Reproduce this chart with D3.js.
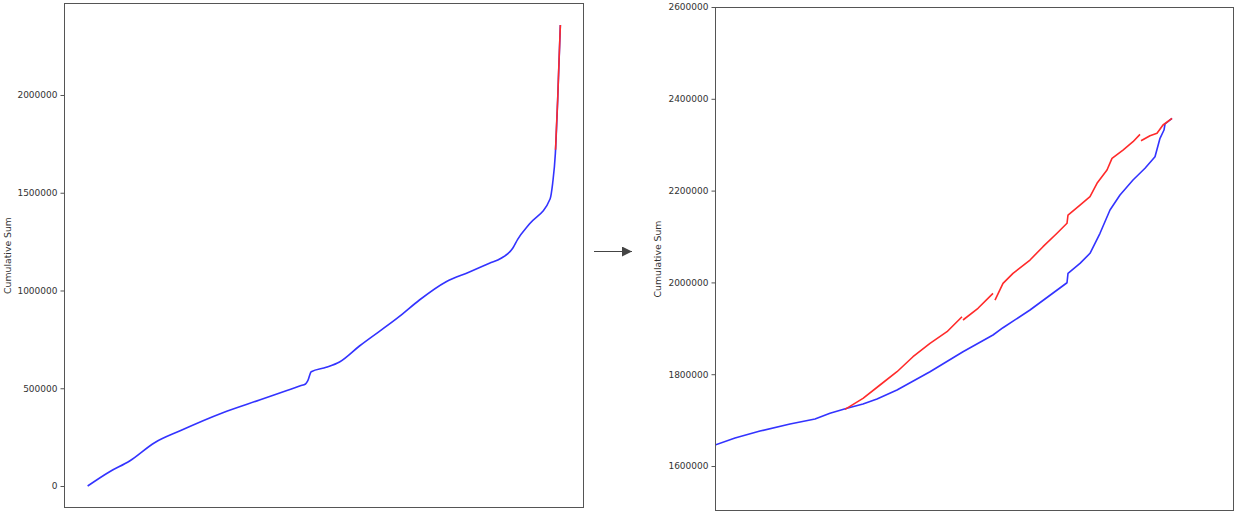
<!DOCTYPE html>
<html>
<head>
<meta charset="utf-8">
<script src="https://cdn.jsdelivr.net/npm/d3@7"></script>
<style>
  html, body { margin: 0; padding: 0; background: #fff; }
  svg text { font-family: "DejaVu Sans", sans-serif; fill: #333; }
</style>
</head>
<body>
<svg id="chart" width="1241" height="520"></svg>
<script>
// ---- Left panel (full series) ----
const fullIndex = [0, 46.5, 88.8, 141.6, 194.5, 286, 363.6, 420, 450, 460.9, 465.8, 473, 504.7, 532.8, 575, 659.6, 701.9, 758.4, 807.6, 850, 874.6, 899.2, 909.7, 934.5, 978.2, 983.7, 989.4, 994.3, 1000];
const fullBlue  = [0, 73100, 127900, 221500, 281300, 374900, 439900, 487300, 512500, 521700, 538600, 584600, 607200, 634300, 716100, 867000, 951400, 1045000, 1094600, 1139000, 1164700, 1215800, 1261900, 1340100, 1468000, 1548300, 1700000, 1974400, 2358000];
const fullRedIndex = [989.8, 992, 994.3, 996.5, 1000];
const fullRed      = [1720000, 1850000, 1974400, 2130000, 2358000];
const leftTicks = [0, 500000, 1000000, 1500000, 2000000];

// ---- Right panel (zoomed tail) ----
const tailIndex = [0, 20, 45, 75, 100, 115, 132, 148, 162, 182, 215, 248, 278, 288, 315, 352, 353, 365, 375, 385, 395, 405, 418, 430, 440, 445, 449, 450, 457];
const tailBlue  = [1645700, 1661000, 1676200, 1691500, 1702400, 1714800, 1725700, 1735100, 1746000, 1765600, 1805400, 1849000, 1885400, 1901300, 1939900, 1999300, 2019800, 2041600, 2063400, 2107000, 2157700, 2190400, 2223100, 2248600, 2273800, 2313900, 2332000, 2345100, 2357500];
const tailRedIndex = [130, 148, 165, 182, 198, 215, 232, 247, 247.5, 248, 263, 278, 279, 280, 288, 298, 315, 328, 342, 352, 353, 365, 375, 382, 392, 397, 408, 418, 425, 425.5, 426, 435, 442, 448, 457];
const tailRed      = [1723500, 1747500, 1776500, 1805400, 1838100, 1867300, 1892600, 1925300, null, 1918100, 1943600, 1976200, null, 1961600, 1998000, 2019800, 2048800, 2077800, 2107000, 2128800, 2146800, 2168600, 2186700, 2215900, 2244900, 2270300, 2288400, 2306500, 2322600, null, 2308700, 2319600, 2324800, 2342900, 2357500];
const rightTicks = [1600000, 1800000, 2000000, 2200000, 2400000, 2600000];

const yLabel = "Cumulative Sum";
const blueColor = "#3333ff";
const redColor = "#ff2a2a";

const svg = d3.select("#chart");

function panel(cfg) {
  const g = svg.append("g");
  const x = d3.scaleLinear().domain(cfg.xDomain).range([cfg.x0, cfg.x1]);
  const y = d3.scaleLinear().domain(cfg.yDomain).range([cfg.y1, cfg.y0]);

  const clipId = "clip" + cfg.id;
  svg.append("clipPath").attr("id", clipId)
    .append("rect").attr("x", cfg.x0).attr("y", cfg.y0)
    .attr("width", cfg.x1 - cfg.x0).attr("height", cfg.y1 - cfg.y0);

  const line = d3.line()
    .defined(d => d[1] !== null)
    .curve(cfg.curve)
    .x(d => x(d[0])).y(d => y(d[1]));

  const plot = g.append("g").attr("clip-path", `url(#${clipId})`);
  cfg.series.forEach(s => {
    plot.append("path")
      .datum(s.xs.map((v, i) => [v, s.ys[i]]))
      .attr("d", line)
      .attr("fill", "none")
      .attr("stroke", s.color)
      .attr("stroke-width", 1.6)
      .attr("stroke-linejoin", "round");
  });

  // frame
  g.append("rect")
    .attr("x", cfg.x0 + 0.5).attr("y", cfg.y0 + 0.5)
    .attr("width", cfg.x1 - cfg.x0 - 1).attr("height", cfg.y1 - cfg.y0 - 1)
    .attr("fill", "none").attr("stroke", "#555").attr("stroke-width", 1);

  // y axis
  const axis = d3.axisLeft(y).tickValues(cfg.ticks).tickFormat(d3.format("d"))
    .tickSize(4).tickPadding(3);
  const ag = g.append("g").attr("transform", `translate(${cfg.x0 + 0.5},0)`).call(axis);
  ag.select(".domain").remove();
  ag.selectAll(".tick line").attr("stroke", "#555");
  ag.selectAll(".tick text").style("font-size", "9px").attr("fill", "#333")
    .style("font-family", "'DejaVu Sans', sans-serif");

  g.append("text")
    .attr("transform", `translate(${cfg.labelX},${(cfg.y0 + cfg.y1) / 2}) rotate(-90)`)
    .attr("text-anchor", "middle")
    .attr("dominant-baseline", "middle")
    .style("font-size", "9.3px")
    .text(yLabel);
}

panel({
  id: "L", x0: 64, x1: 584, y0: 3, y1: 508,
  xDomain: [-50, 1050], yDomain: [-112500, 2470500],
  ticks: leftTicks, labelX: 8, curve: d3.curveMonotoneX,
  series: [
    { xs: fullIndex, ys: fullBlue, color: blueColor },
    { xs: fullRedIndex, ys: fullRed, color: redColor }
  ]
});

panel({
  id: "R", x0: 715, x1: 1234, y0: 7, y1: 511,
  xDomain: [0, 519], yDomain: [1502000, 2600000],
  ticks: rightTicks, labelX: 658, curve: d3.curveLinear,
  series: [
    { xs: tailIndex, ys: tailBlue, color: blueColor },
    { xs: tailRedIndex, ys: tailRed, color: redColor }
  ]
});

// arrow between panels
const defs = svg.append("defs");
defs.append("marker").attr("id", "arrowhead")
  .attr("viewBox", "0 0 10 10").attr("refX", 10).attr("refY", 5)
  .attr("markerWidth", 12).attr("markerHeight", 10)
  .attr("markerUnits", "userSpaceOnUse")
  .attr("orient", "auto")
  .append("path").attr("d", "M0,0 L10,5 L0,10 Z").attr("fill", "#444");
svg.append("line")
  .attr("x1", 594).attr("y1", 251.5).attr("x2", 632).attr("y2", 251.5)
  .attr("stroke", "#444").attr("stroke-width", 1)
  .attr("marker-end", "url(#arrowhead)");
</script>
</body>
</html>
